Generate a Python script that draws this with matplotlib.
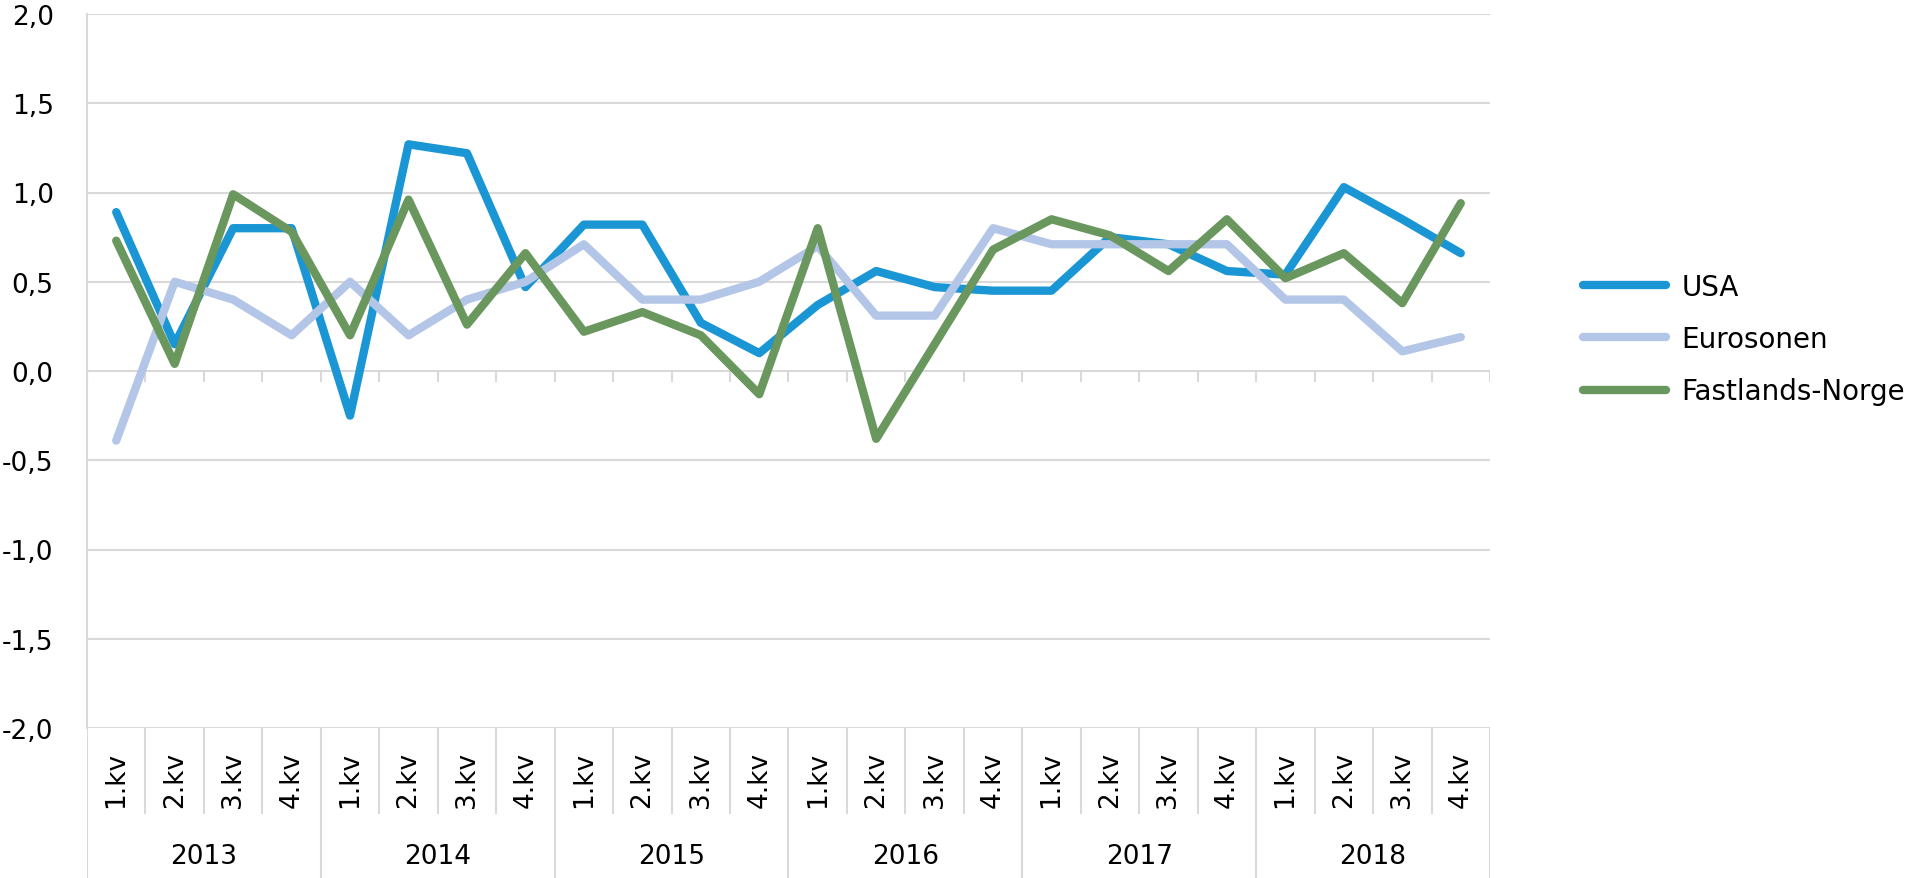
import matplotlib.pyplot as plt
import numpy as np

# Data (quarterly growth, percent)
years = ['2013', '2014', '2015', '2016', '2017', '2018']
quarters = ['1.kv', '2.kv', '3.kv', '4.kv']
usa = [0.89, 0.15, 0.80, 0.80, -0.25, 1.27, 1.22, 0.47, 0.82, 0.82, 0.27, 0.10,
       0.37, 0.56, 0.47, 0.45, 0.45, 0.75, 0.71, 0.56, 0.54, 1.03, 0.85, 0.66]
euro = [-0.39, 0.50, 0.40, 0.20, 0.50, 0.20, 0.40, 0.50, 0.71, 0.40, 0.40, 0.50,
        0.70, 0.31, 0.31, 0.80, 0.71, 0.71, 0.71, 0.71, 0.40, 0.40, 0.11, 0.19]
fast = [0.73, 0.04, 0.99, 0.78, 0.20, 0.96, 0.26, 0.66, 0.22, 0.33, 0.20, -0.13,
        0.80, -0.38, 0.15, 0.68, 0.85, 0.76, 0.56, 0.85, 0.52, 0.66, 0.38, 0.94]
names = ['USA', 'Eurosonen', 'Fastlands-Norge']
colors = ['#1a96d5', '#b4c6e7', '#69975d']
grid_color = '#d9d9d9'

plt.rcParams['font.family'] = 'DejaVu Sans'

W, H = 1920, 879
fig = plt.figure(figsize=(W / 100, H / 100), dpi=100)

# pixel layout
left, right, top, bottom = 87, 1490, 15, 729
ax = fig.add_axes([left / W, (H - bottom) / H, (right - left) / W, (bottom - top) / H])

n = len(usa)
x = np.arange(n)
for vals, name, c in zip([usa, euro, fast], names, colors):
    ax.plot(x, vals, color=c, lw=6, label=name,
            solid_capstyle='round', solid_joinstyle='round', zorder=3)

ax.set_xlim(-0.5, n - 0.5)
ax.set_ylim(-2, 2)
yt = np.arange(-2, 2.01, 0.5)
ax.set_yticks(yt)
ax.set_yticklabels([f"{v:.1f}".replace('.', ',') for v in yt], fontsize=19)
ax.tick_params(axis='y', length=0, pad=24)
ax.set_xticks([])
for v in yt:
    ax.axhline(v, color=grid_color, lw=1.5, zorder=1)
# zero axis with tick marks between categories
ax.vlines(np.arange(n + 1) - 0.5, -0.062, 0, color=grid_color, lw=1.5, zorder=1)
for s in ['top', 'right', 'bottom']:
    ax.spines[s].set_visible(False)
ax.spines['left'].set_color(grid_color)
ax.spines['left'].set_linewidth(1.5)

# category area below
cax = fig.add_axes([left / W, 0, (right - left) / W, (H - bottom) / H])
cax.set_xlim(-0.5, n - 0.5)
cax.set_ylim(0, H - bottom)
cax.axis('off')
for k in range(n + 1):
    if k % 4 == 0:
        cax.vlines(k - 0.5, 0, H - bottom, color=grid_color, lw=1.5)
    else:
        cax.vlines(k - 0.5, 64, H - bottom, color=grid_color, lw=1.5)
for k in range(n):
    cax.text(k, 99, quarters[k % 4], rotation=90, ha='center', va='center', fontsize=19)
for i, yr in enumerate(years):
    cax.text(4 * i + 1.5, 22, yr, ha='center', va='center', fontsize=19)

fig.legend(loc='center left', bbox_to_anchor=(1558 / W, (H - 340) / H),
           frameon=False, fontsize=20, handlelength=3.0, handletextpad=0.55,
           labelspacing=0.88)

fig.savefig('out.png', dpi=100, facecolor='white')
